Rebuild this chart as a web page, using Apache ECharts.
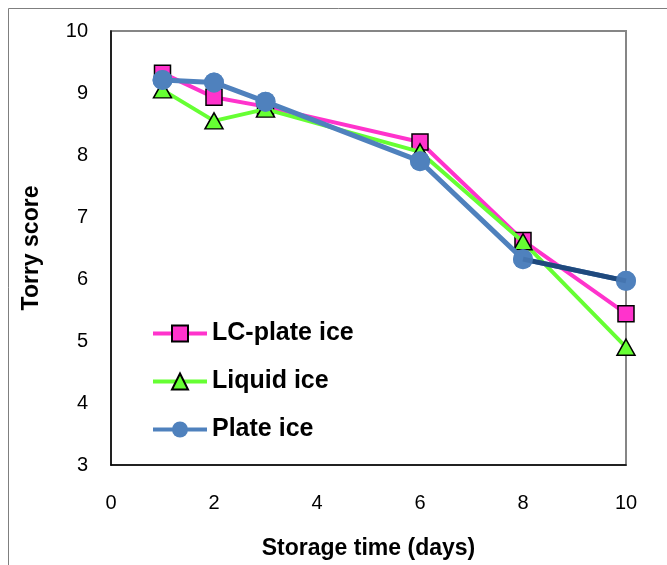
<!DOCTYPE html>
<html>
<head>
<meta charset="utf-8">
<script src="https://cdn.jsdelivr.net/npm/echarts@6/dist/echarts.min.js"></script>
<style>html,body{margin:0;padding:0;background:#fff}#c{width:667px;height:565px}</style>
</head>
<body>
<div id="c"></div>
<script>
var days = [1, 2, 3, 6, 8, 10];
var lcPlateIce = [9.32, 8.93, 8.78, 8.21, 6.62, 5.44];
var liquidIce = [9.05, 8.55, 8.74, 8.05, 6.60, 4.90];
var plateIce = [9.21, 9.17, 8.86, 7.90, 6.32, 5.97];
var seriesNames = ['LC-plate ice', 'Liquid ice', 'Plate ice'];
var xTicks = [0, 2, 4, 6, 8, 10];
var yTicks = [3, 4, 5, 6, 7, 8, 9, 10];

function pairs(xs, ys) { return xs.map(function (x, i) { return [x, ys[i]]; }); }

var chart = echarts.init(document.getElementById('c'));
var font = 'Liberation Sans, Arial, sans-serif';
chart.setOption({
  backgroundColor: '#fff',
  animation: false,
  graphic: [{
    type: 'rect', shape: { x: 8.5, y: 8.5, width: 700, height: 700 },
    style: { fill: 'none', stroke: '#7f7f7f', lineWidth: 1 }, z: -1
  }],
  grid: { left: 111, right: 41, top: 31, bottom: 100, show: true, borderColor: '#868686', borderWidth: 2, backgroundColor: 'transparent' },
  legend: {
    data: seriesNames, orient: 'vertical', left: 146, top: 316, itemWidth: 54, itemHeight: 20, itemGap: 23, itemTextGap: 3,
    lineStyle: { width: 4 },
    textStyle: { fontFamily: font, fontSize: 25, lineHeight: 25, fontWeight: 'bold', color: '#000' }
  },
  xAxis: {
    type: 'value', min: xTicks[0], max: xTicks[xTicks.length - 1], interval: 2,
    axisLine: { lineStyle: { color: '#000', width: 1.5 } }, axisTick: { show: false }, splitLine: { show: false },
    axisLabel: { fontFamily: font, fontSize: 20, color: '#000', margin: 28 },
    name: 'Storage time (days)', nameLocation: 'middle', nameGap: 72,
    nameTextStyle: { fontFamily: font, fontSize: 23, fontWeight: 'bold', color: '#000' }
  },
  yAxis: {
    type: 'value', min: yTicks[0], max: yTicks[yTicks.length - 1], interval: 1,
    axisLine: { lineStyle: { color: '#000', width: 1.5 } }, axisTick: { show: false }, splitLine: { show: false },
    axisLabel: { fontFamily: font, fontSize: 20, color: '#000', margin: 23 },
    name: 'Torry score', nameLocation: 'middle', nameGap: 68,
    nameTextStyle: { fontFamily: font, fontSize: 23, fontWeight: 'bold', color: '#000' }
  },
  series: [
    {
      name: seriesNames[0], type: 'line', data: pairs(days, lcPlateIce), z: 2,
      symbol: 'rect', symbolSize: 16, lineStyle: { color: '#FF33CC', width: 4 },
      itemStyle: { color: '#FF33CC', borderColor: '#000', borderWidth: 1.5 }
    },
    {
      name: seriesNames[1], type: 'line', data: pairs(days, liquidIce), z: 3,
      symbol: 'triangle', symbolSize: [18, 16], lineStyle: { color: '#66FF33', width: 4 },
      itemStyle: { color: '#66FF33', borderColor: '#000', borderWidth: 1.5 }
    },
    {
      name: seriesNames[2], type: 'line', data: pairs(days, plateIce), z: 4,
      symbol: 'circle', symbolSize: 20, lineStyle: { color: '#4F81BD', width: 5 },
      itemStyle: { color: '#4F81BD' }
    },
    {
      name: 'seg', type: 'line', data: pairs(days.slice(4), plateIce.slice(4)), z: 5,
      showSymbol: false, symbol: 'none', lineStyle: { color: '#1F497D', width: 5 }, silent: true
    },
    {
      name: 'pts', type: 'scatter', data: pairs(days, plateIce), z: 6,
      symbol: 'circle', symbolSize: 20, itemStyle: { color: '#4F81BD' }, silent: true
    }
  ]
});
</script>
</body>
</html>
